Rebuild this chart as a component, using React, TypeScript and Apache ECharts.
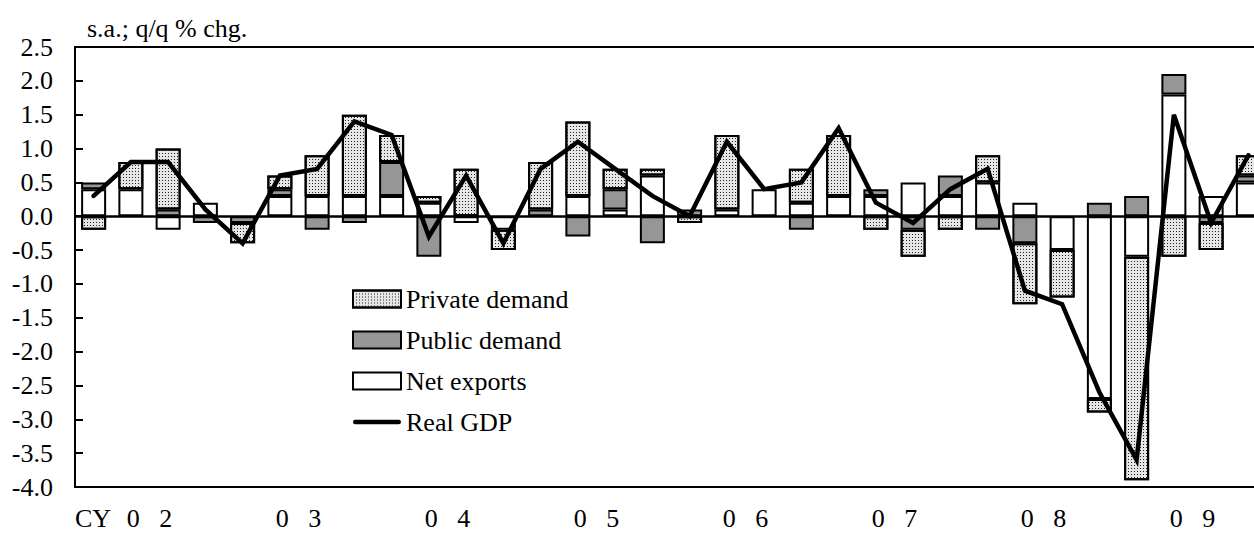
import React, { useEffect, useRef } from 'react';
import * as echarts from 'echarts';

const quarters = [
  '02Q1', '02Q2', '02Q3', '02Q4', '03Q1', '03Q2', '03Q3', '03Q4',
  '04Q1', '04Q2', '04Q3', '04Q4', '05Q1', '05Q2', '05Q3', '05Q4',
  '06Q1', '06Q2', '06Q3', '06Q4', '07Q1', '07Q2', '07Q3', '07Q4',
  '08Q1', '08Q2', '08Q3', '08Q4', '09Q1', '09Q2', '09Q3', '09Q4',
];

const yearLabels = ['0   2', '0   3', '0   4', '0   5', '0   6', '0   7', '0   8', '0   9'];

const netExports = [
  0.4, 0.4, -0.2, 0.2, 0, 0.3, 0.3, 0.3,
  0.3, 0.2, -0.1, -0.2, 0, 0.3, 0.1, 0.6,
  0, 0.1, 0.4, 0.2, 0.3, 0.3, 0.5, 0.3,
  0.5, 0.2, -0.5, -2.7, -0.6, 1.8, 0.3, 0.5,
];

const publicDemand = [
  0.1, 0, 0.1, -0.1, -0.1, 0.1, -0.2, -0.1,
  0.5, -0.6, 0, 0, 0.1, -0.3, 0.3, -0.4,
  0.1, 0, 0, -0.2, 0, 0.1, -0.2, 0.3,
  -0.2, -0.4, 0, 0.2, 0.3, 0.3, -0.1, 0.1,
];

const privateDemand = [
  -0.2, 0.4, 0.9, 0, -0.3, 0.2, 0.6, 1.2,
  0.4, 0.1, 0.7, -0.3, 0.7, 1.1, 0.3, 0.1,
  -0.1, 1.1, 0, 0.5, 0.9, -0.2, -0.4, -0.2,
  0.4, -0.9, -0.7, -0.2, -3.3, -0.6, -0.4, 0.3,
];

const realGDP = [
  0.3, 0.8, 0.8, 0.1, -0.4, 0.6, 0.7, 1.4,
  1.2, -0.3, 0.6, -0.4, 0.7, 1.1, 0.7, 0.3,
  0.0, 1.1, 0.4, 0.5, 1.3, 0.2, -0.1, 0.4,
  0.7, -1.1, -1.3, -2.6, -3.6, 1.5, -0.1, 0.9,
];

const FONT = "'Liberation Serif', 'Times New Roman', serif";
const FS = 26;

export default function App() {
  const ref = useRef<HTMLDivElement>(null);

  useEffect(() => {
    if (!ref.current) return;
    const chart = echarts.init(ref.current, undefined, { renderer: 'svg' });
    const nz = (arr: number[]) => arr.map((v) => (v === 0 ? null : v));
    const barBase = {
      type: 'bar',
      stack: 'total',
      barWidth: 25,
      xAxisIndex: 0,
      yAxisIndex: 0,
    };
    const option: any = {
      animation: false,
      backgroundColor: '#ffffff',
      textStyle: { fontFamily: FONT },
      grid: {
        left: 75,
        right: 13,
        top: 47,
        bottom: 52,
        show: true,
        borderColor: '#000',
        borderWidth: 2,
        backgroundColor: 'transparent',
      },
      graphic: [
        {
          type: 'text',
          left: 87,
          top: 15,
          style: { text: 's.a.; q/q % chg.', font: `${FS}px ${FONT}`, fill: '#000' },
        },
        {
          type: 'text',
          left: 75,
          top: 505,
          style: { text: 'CY', font: `${FS}px ${FONT}`, fill: '#000' },
        },
      ],
      legend: {
        orient: 'vertical',
        left: 352,
        top: 286,
        padding: 0,
        itemWidth: 48,
        itemHeight: 17,
        itemGap: 15,
        textStyle: { fontFamily: FONT, fontSize: FS, color: '#000' },
        itemStyle: { borderColor: '#000', borderWidth: 2 },
        data: [
          { name: 'Private demand', icon: 'rect' },
          { name: 'Public demand', icon: 'rect' },
          { name: 'Net exports', icon: 'rect' },
          {
            name: 'Real GDP',
            icon: 'path://M2.25,0 H45.75 A2.25,2.25 0 0 1 45.75,4.5 H2.25 A2.25,2.25 0 0 1 2.25,0 Z',
            itemStyle: { color: '#000', borderWidth: 0 },
          },
        ],
      },
      xAxis: [
        {
          type: 'category',
          data: quarters,
          position: 'bottom',
          axisLine: { onZero: false, lineStyle: { color: '#000', width: 2 } },
          axisTick: { interval: 3, length: 8, lineStyle: { color: '#000', width: 2 } },
          axisLabel: { show: false },
          splitLine: { show: false },
        },
        {
          type: 'category',
          data: quarters,
          position: 'bottom',
          axisLine: { show: false, onZero: false },
          axisTick: { interval: 3, length: 8, inside: true, lineStyle: { color: '#000', width: 2 } },
          axisLabel: { show: false },
          splitLine: { show: false },
        },
        {
          type: 'category',
          data: yearLabels,
          position: 'bottom',
          axisLine: { show: false, onZero: false },
          axisTick: { show: false },
          axisLabel: { margin: 18, fontFamily: FONT, fontSize: FS, color: '#000' },
          splitLine: { show: false },
        },
      ],
      yAxis: {
        type: 'value',
        min: -4,
        max: 2.5,
        interval: 0.5,
        axisLine: { show: true, lineStyle: { color: '#000', width: 2 } },
        axisTick: { show: true, inside: true, length: 8, lineStyle: { color: '#000', width: 2 } },
        axisLabel: {
          margin: 22,
          fontFamily: FONT,
          fontSize: FS,
          color: '#000',
          formatter: (v: number) => v.toFixed(1),
        },
        splitLine: { show: false },
      },
      series: [
        {
          ...barBase,
          name: 'Net exports',
          data: nz(netExports),
          itemStyle: { color: '#ffffff', borderColor: '#000', borderWidth: 2 },
        },
        {
          ...barBase,
          name: 'Public demand',
          data: nz(publicDemand),
          itemStyle: { color: '#969696', borderColor: '#000', borderWidth: 2 },
        },
        {
          ...barBase,
          name: 'Private demand',
          data: nz(privateDemand),
          itemStyle: {
            color: '#e6e6e6',
            borderColor: '#000',
            borderWidth: 2,
            decal: {
              symbol: 'rect',
              symbolSize: 1,
              dashArrayX: [1, 2],
              dashArrayY: [1, 2],
              color: '#222222',
            },
          },
        },
        {
          type: 'line',
          name: 'Real GDP',
          data: realGDP,
          xAxisIndex: 0,
          yAxisIndex: 0,
          symbol: 'none',
          showSymbol: false,
          z: 5,
          lineStyle: { color: '#000', width: 4.5, join: 'miter', cap: 'round' },
          itemStyle: { color: '#000' },
          markLine: {
            silent: true,
            symbol: ['none', 'none'],
            label: { show: false },
            lineStyle: { color: '#000', width: 2.5, type: 'solid' },
            data: [{ yAxis: 0 }],
          },
        },
      ],
    };
    chart.setOption(option);
    return () => chart.dispose();
  }, []);

  return (
    <div
      style={{
        position: 'fixed',
        left: 0,
        top: 0,
        width: 1254,
        height: 539,
        overflow: 'hidden',
        background: '#fff',
      }}
    >
      <div ref={ref} style={{ width: 1280, height: 539 }} />
    </div>
  );
}
